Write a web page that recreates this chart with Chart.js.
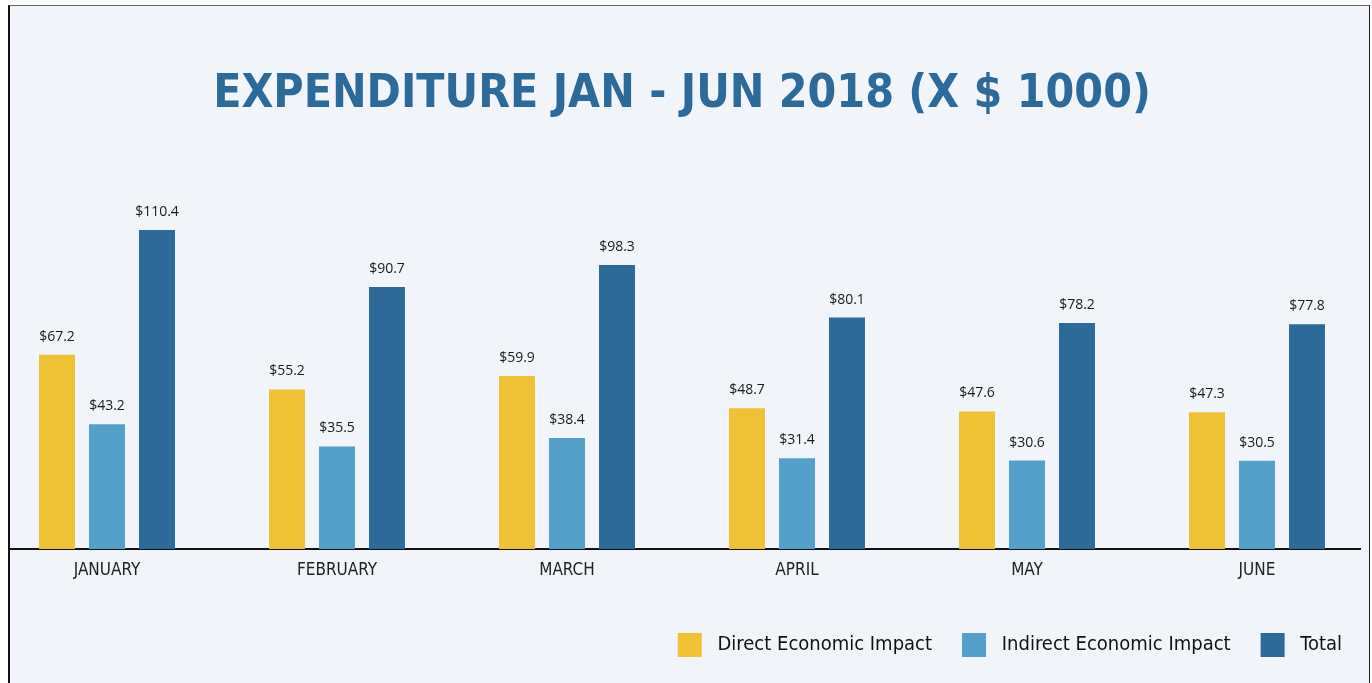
<!DOCTYPE html>
<html>
<head>
<meta charset="utf-8">
<script src="https://cdn.jsdelivr.net/npm/chart.js@4"></script>
<style>
  html, body { margin: 0; padding: 0; background: #fff; width: 1372px; height: 683px; overflow: hidden; }
  .frame { position: absolute; left: 8px; top: 5px; width: 1359px; height: 700px; background: #f1f5f9;
           border-left: 2px solid #111; border-top: 1.5px solid #666; border-right: 1.5px solid #222; }
  .wrap { position: absolute; left: -8px; top: 0; width: 1380px; height: 683px; clip-path: inset(0 11px 0 16px); }
</style>
</head>
<body>
<div class="frame"></div>
<div class="wrap"><canvas id="chart"></canvas></div>
<script>
const MONTHS = ['JANUARY', 'FEBRUARY', 'MARCH', 'APRIL', 'MAY', 'JUNE'];
const DIRECT = [67.2, 55.2, 59.9, 48.7, 47.6, 47.3];
const INDIRECT = [43.2, 35.5, 38.4, 31.4, 30.6, 30.5];
const TOTAL = [110.4, 90.7, 98.3, 80.1, 78.2, 77.8];

const NARROW = "'Liberation Sans Narrow', 'DejaVu Sans Condensed', sans-serif";

// value labels above each bar
const valueLabels = {
  id: 'valueLabels',
  afterDatasetsDraw(chart) {
    const ctx = chart.ctx;
    ctx.save();
    ctx.font = "14px 'Open Sans', sans-serif";
    ctx.fillStyle = '#1a1a1a';
    ctx.textAlign = 'center';
    ctx.textBaseline = 'middle';
    chart.data.datasets.forEach((ds, i) => {
      chart.getDatasetMeta(i).data.forEach((bar, j) => {
        ctx.fillText('$' + ds.data[j].toFixed(1), bar.x, bar.y - 18);
      });
    });
    ctx.restore();
  }
};

new Chart(document.getElementById('chart'), {
  type: 'bar',
  data: {
    labels: MONTHS,
    datasets: [
      { label: 'Direct Economic Impact', data: DIRECT, backgroundColor: '#efc134' },
      { label: 'Indirect Economic Impact', data: INDIRECT, backgroundColor: '#55a0c8' },
      { label: 'Total', data: TOTAL, backgroundColor: '#2e6a98' }
    ]
  },
  options: {
    responsive: true,
    maintainAspectRatio: false,
    animation: false,
    categoryPercentage: 0.652,
    barPercentage: 0.72,
    layout: { padding: { left: 0, right: 0, top: 0, bottom: 16 } },
    plugins: {
      title: {
        display: true,
        text: 'EXPENDITURE JAN - JUN 2018 (X $ 1000)',
        color: '#2e6a99',
        font: { family: NARROW, size: 46, weight: 'bold' },
        padding: { top: 67, bottom: 28 }
      },
      legend: {
        position: 'bottom',
        align: 'end',
        labels: {
          color: '#111',
          font: { family: NARROW, size: 20 },
          boxWidth: 24,
          boxHeight: 24,
          padding: 30,
          generateLabels(chart) {
            return chart.data.datasets.map((ds, i) => ({
              text: ' ' + ds.label,
              fillStyle: ds.backgroundColor,
              strokeStyle: ds.backgroundColor,
              lineWidth: 0,
              fontColor: '#111',
              datasetIndex: i
            }));
          }
        }
      },
      tooltip: { enabled: false }
    },
    scales: {
      x: {
        grid: { display: false },
        border: { display: true, color: '#111', width: 2 },
        ticks: { color: '#222', font: { family: NARROW, size: 17 }, padding: 3 },
        afterFit(s) { s.height = 54; }
      },
      y: { display: false, min: 0, max: 138 }
    }
  },
  plugins: [valueLabels]
});
</script>
</body>
</html>
